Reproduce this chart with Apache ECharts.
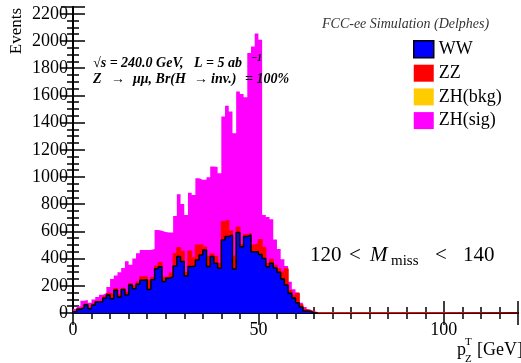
<!DOCTYPE html>
<html>
<head>
<meta charset="utf-8">
<script src="https://cdn.jsdelivr.net/npm/echarts@6/dist/echarts.min.js"></script>
<style>
	html, body { margin: 0; padding: 0; background: #fff; }
	#chart { width: 521px; height: 363px; }
</style>
</head>
<body>
<div id="chart"></div>
<script>
	// histogram binning (GeV), bins start at 0
	var binWidth = 1;
	var xMax = 120;
	var yMax = 2250;

	// events per bin
	var wwCounts = [10, 27, 36, 60, 32, 58, 80, 80, 108, 132,
		105, 168, 118, 172, 132, 205, 178, 212, 240, 245,
		172, 245, 325, 340, 232, 255, 268, 346, 415, 378,
		272, 341, 346, 390, 427, 464, 341, 415, 366, 329,
		537, 562, 574, 324, 591, 488, 562, 574, 450, 450,
		430, 400, 340, 365, 330, 300, 250, 205, 145, 110,
		75, 45, 15, 12, 2, 0];
	var zzCounts = [3, 5, 8, 6, 5, 8, 6, 10, 10, 12,
		30, 12, 15, 10, 20, 12, 20, 15, 25, 20,
		70, 15, 20, 30, 30, 15, 25, 90, 65, 75,
		25, 115, 60, 110, 75, 20, 75, 20, 50, 35,
		135, 120, 30, 95, 40, 15, 15, 10, 50, 60,
		110, 80, 25, 30, 20, 25, 50, 120, 20, 20,
		70, 15, 10, 5, 5, 3];
	var zhBkgCounts = [0, 0, 0, 0, 0, 0, 0, 0, 0, 0,
		0, 0, 0, 0, 0, 0, 0, 0, 0, 0,
		0, 0, 0, 0, 0, 0, 0, 0, 0, 0,
		0, 0, 0, 0, 0, 0, 0, 0, 0, 0,
		0, 0, 0, 0, 0, 0, 0, 0, 0, 0,
		0, 0, 0, 0, 0, 0, 0, 0, 0, 0,
		0, 0, 0, 0, 0, 0];
	var zhSigCounts = [17, 18, 46, 29, 38, 34, 32, 45, 27, 48,
		115, 95, 167, 148, 228, 138, 202, 213, 198, 198,
		221, 210, 265, 235, 333, 321, 298, 278, 393, 349,
		424, 429, 462, 491, 477, 495, 583, 642, 657, 664,
		773, 841, 877, 903, 997, 1107, 1010, 1327, 1460, 1545,
		1469, 240, 340, 295, 190, 145, 95, 20, 65, 45,
		5, 15, 20, 8, 5, 2];

	var seriesNames = ['WW', 'ZZ', 'ZH(bkg)', 'ZH(sig)'];
	var seriesColors = ['#0000ff', '#ff0000', '#ffcc00', '#ff00ff'];
	var countLists = [wwCounts, zzCounts, zhBkgCounts, zhSigCounts];

	// THStack style: each layer is drawn as the running sum down to zero
	var stacked = [];
	var running = [];
	for (var s = 0; s < countLists.length; s++) {
		var layer = [];
		for (var i = 0; i < countLists[s].length; i++) {
			running[i] = (running[i] || 0) + countLists[s][i];
			layer.push(running[i]);
		}
		stacked.push(layer);
	}

	// [lowEdge, count] points for a step line, closed back to zero
	function histPoints(counts, closeAt) {
		var pts = [];
		for (var i = 0; i < counts.length; i++) {
			pts.push([i * binWidth, counts[i]]);
		}
		pts.push([counts.length * binWidth, 0]);
		if (closeAt) pts.push([closeAt, 0]);
		return pts;
	}

	var serif = 'Liberation Serif';
	var myChart = echarts.init(document.getElementById('chart'));

	function histSeries(idx, closeAt, line, z) {
		return {
			name: seriesNames[idx],
			type: 'line',
			step: 'end',
			symbol: 'none',
			showSymbol: false,
			silent: true,
			z: z,
			xAxisIndex: 0,
			yAxisIndex: 0,
			color: seriesColors[idx],
			lineStyle: line,
			areaStyle: { color: seriesColors[idx], opacity: 1, origin: 'start' },
			emphasis: { disabled: true },
			data: histPoints(stacked[idx], closeAt)
		};
	}

	var frameLine = { lineStyle: { color: '#000', width: 2 } };
	function tickAxis(grid, pos, isX, step, len, labels) {
		var ax = {
			type: 'value',
			gridIndex: grid,
			position: pos,
			min: 0,
			max: isX ? xMax : yMax,
			interval: step,
			axisLine: grid === 0 ? frameLine : { show: false },
			axisTick: { show: true, inside: true, length: len, lineStyle: { color: '#000', width: 1.5 } },
			splitLine: { show: false },
			axisLabel: { show: false }
		};
		if (labels) {
			ax.axisLabel = {
				show: true,
				fontFamily: serif,
				fontSize: 18,
				color: '#000',
				margin: isX ? 8 : 5,
				formatter: function(v) {
					return v % step === 0 ? String(v) : '';
				}
			};
		}
		return ax;
	}

	var boldIt = 'italic bold 14px "Liberation Serif"';
	var mathFont = '21px "Liberation Serif"';
	function note(x, y, text, font, extra) {
		var st = { text: text, font: font, fill: '#000', verticalAlign: 'middle' };
		for (var k in extra) st[k] = extra[k];
		return { type: 'text', z: 100, x: x, y: y, style: st };
	}

	var option = {
		animation: false,
		grid: [
			{ left: 73, right: 3, top: 7, bottom: 50 },
			{ left: 73, right: 3, top: 7, bottom: 50 }
		],
		xAxis: [
			tickAxis(0, 'bottom', true, 5, 6, false),
			tickAxis(0, 'top', true, 5, 6, false),
			tickAxis(1, 'bottom', true, 50, 12, true),
			tickAxis(1, 'top', true, 50, 12, false)
		],
		yAxis: [
			tickAxis(0, 'left', false, 50, 6, false),
			tickAxis(0, 'right', false, 50, 6, false),
			tickAxis(1, 'left', false, 200, 12, true),
			tickAxis(1, 'right', false, 200, 12, false)
		],
		legend: {
			orient: 'vertical',
			left: 408,
			top: 35,
			itemWidth: 20,
			itemHeight: 17,
			itemGap: 5.7,
			icon: 'rect',
			selectedMode: false,
			textStyle: { fontFamily: serif, fontSize: 18, color: '#000' },
			data: [
				{ name: 'WW', itemStyle: { color: '#0000ff', borderColor: '#000', borderWidth: 1.5 } },
				{ name: 'ZZ', itemStyle: { color: '#ff0000', borderWidth: 0 } },
				{ name: 'ZH(bkg)', itemStyle: { color: '#ffcc00', borderWidth: 0 } },
				{ name: 'ZH(sig)', itemStyle: { color: '#ff00ff', borderWidth: 0 } }
			]
		},
		series: [
			histSeries(3, xMax, { width: 0 }, 2),
			histSeries(2, xMax, { width: 0 }, 3),
			histSeries(1, xMax, { color: '#ff0000', width: 1.2 }, 4),
			histSeries(0, null, { color: '#000', width: 1.5 }, 5)
		],
		graphic: [
			note(17, 31, 'Events', '17px "Liberation Serif"', { align: 'center' }),
			note(322, 24, 'FCC-ee Simulation (Delphes)', 'italic 14px "Liberation Serif"', { fill: '#333' }),
			note(93, 63, '\u221As = 240.0 GeV,', boldIt),
			note(194, 63, 'L = 5 ab', boldIt),
			note(251, 58, '\u22121', 'italic bold 10px "Liberation Serif"'),
			note(93, 79, 'Z', boldIt),
			note(111, 79, '\u2192', boldIt),
			note(133, 79, '\u03bc\u03bc, Br(H', boldIt),
			note(194, 79, '\u2192', boldIt),
			note(211, 79, 'inv.)', boldIt),
			note(245, 79, '= 100%', boldIt),
			note(310, 255, '120', mathFont),
			note(349, 255, '<', mathFont),
			note(370, 255, 'M', 'italic ' + mathFont),
			note(391, 261, 'miss', '15px "Liberation Serif"'),
			note(435, 255, '<', mathFont),
			note(463, 255, '140', mathFont),
			note(457, 350, 'p', '18px "Liberation Serif"'),
			note(465, 342, 'T', '11px "Liberation Serif"'),
			note(465, 359, 'Z', '11px "Liberation Serif"'),
			note(477, 350, '[GeV]', '18px "Liberation Serif"')
		]
	};
	// y title reads bottom to top
	option.graphic[0].rotation = Math.PI / 2;
	myChart.setOption(option);
</script>
</body>
</html>
